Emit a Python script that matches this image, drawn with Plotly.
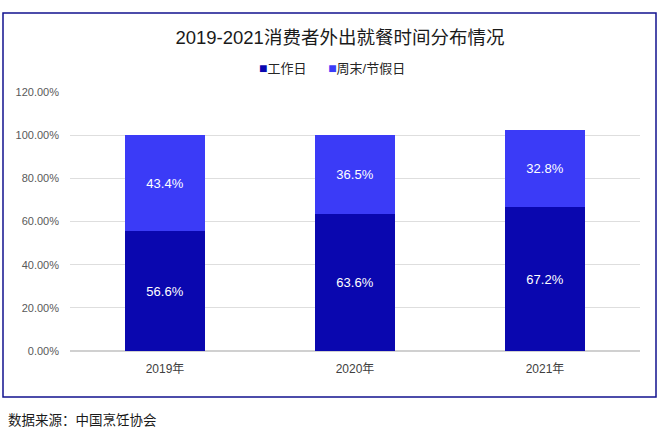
import plotly.graph_objects as go

years = ['2019年', '2020年', '2021年']

# 柱子高度 (按图上量出来的)
weekday = [55.4, 63.6, 66.7]
weekend = [44.6, 36.6, 35.9]

# 柱子上的标签
weekday_text = ['56.6%', '63.6%', '67.2%']
weekend_text = ['43.4%', '36.5%', '32.8%']

y_ticks = [0, 20, 40, 60, 80, 100, 120]

series_names = ['工作日', '周末/节假日']
colors = ['#0A07AF', '#3B3BF7']

font_cn = 'Liberation Sans, Arial, Noto Sans CJK SC, sans-serif'

fig = go.Figure()

fig.add_trace(go.Bar(x=years, y=weekday, name=series_names[0],
                     marker_color=colors[0], marker_line_width=0, width=0.42,
                     text=weekday_text, textposition='inside',
                     insidetextanchor='middle',
                     textfont=dict(color='white', size=13)))
fig.add_trace(go.Bar(x=years, y=weekend, name=series_names[1],
                     marker_color=colors[1], marker_line_width=0, width=0.42,
                     text=weekend_text, textposition='inside',
                     insidetextanchor='middle',
                     textfont=dict(color='white', size=13)))

fig.update_layout(
    width=660, height=434,
    barmode='stack',
    showlegend=False,
    paper_bgcolor='white', plot_bgcolor='white',
    font=dict(family=font_cn, color='#404040'),
    margin=dict(l=70, r=20, t=92, b=83, autoexpand=False),
    title=dict(text='2019-2021消费者外出就餐时间分布情况',
               x=0.515, xanchor='center', y=1 - 38 / 434, yanchor='middle',
               font=dict(size=18.5, color='#1a1a1a')),
    uniformtext=dict(minsize=10, mode='show'),
)

fig.update_yaxes(range=[0, 120], tickvals=y_ticks,
                 ticktext=['%.2f%%' % v for v in y_ticks],
                 showgrid=True, gridcolor='#dedede', gridwidth=1,
                 zeroline=True, zerolinecolor='#d0d0d0',
                 tickfont=dict(size=11, color='#595959'),
                 ticklabelstandoff=10)
fig.update_xaxes(tickfont=dict(size=12, color='#404040'),
                 showline=False, ticklabelstandoff=9)

# 图例 (小方块紧挨文字)
legend_text = '&nbsp;&nbsp;&nbsp;&nbsp;&nbsp;&nbsp;'.join(
    "<span style='color:%s;font-size:14px'>■</span>%s" % (c, n)
    for c, n in zip(colors, series_names))
fig.add_annotation(text=legend_text, xref='paper', yref='paper',
                   x=(332 - 70) / 570, y=(351 - 68) / 259,
                   xanchor='center', yanchor='middle', showarrow=False,
                   font=dict(size=13, color='#262626'))

# 外面的蓝色边框
fig.add_shape(type='rect', xref='paper', yref='paper',
              x0=(3 - 70) / 570, x1=(656 - 70) / 570,
              y0=(351 - 397) / 259, y1=(351 - 13) / 259,
              line=dict(color='#12128f', width=1.5))

fig.add_annotation(text='数据来源：中国烹饪协会', xref='paper', yref='paper',
                   x=(6 - 70) / 570, y=(351 - 420) / 259,
                   xanchor='left', yanchor='middle', showarrow=False,
                   font=dict(size=13.5, color='#1a1a1a'))

# 去掉页面默认的 8px 边距
fig.write_html('out.html', config={'displayModeBar': False},
               post_script="document.body.style.margin='0';")
